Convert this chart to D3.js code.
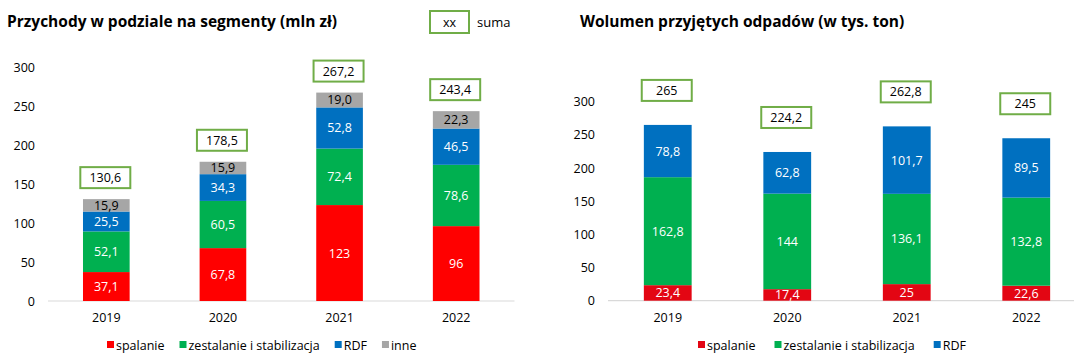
<!DOCTYPE html>
<html>
<head>
<meta charset="utf-8">
<script src="https://cdn.jsdelivr.net/npm/d3@7"></script>
<style>
  html, body { margin: 0; padding: 0; background: #fff; }
  svg { display: block; }
  text { font-family: "Open Sans", "Noto Sans", sans-serif; }
</style>
</head>
<body>
<svg id="chart" width="1074" height="358"></svg>
<script>
// ---------- DATA ----------
const years = ["2019", "2020", "2021", "2022"];
const yTicks = [0, 50, 100, 150, 200, 250, 300];

// Przychody w podziale na segmenty (mln zł)
const revSpalanie   = ["37,1", "67,8", "123", "96"];
const revZestalanie = ["52,1", "60,5", "72,4", "78,6"];
const revRDF        = ["25,5", "34,3", "52,8", "46,5"];
const revInne       = ["15,9", "15,9", "19,0", "22,3"];
const revSuma       = ["130,6", "178,5", "267,2", "243,4"];

// Wolumen przyjętych odpadów (w tys. ton)
const volSpalanie   = ["23,4", "17,4", "25", "22,6"];
const volZestalanie = ["162,8", "144", "136,1", "132,8"];
const volRDF        = ["78,8", "62,8", "101,7", "89,5"];
const volSuma       = ["265", "224,2", "262,8", "245"];

const seriesNames = ["spalanie", "zestalanie i stabilizacja", "RDF", "inne"];
const titles = ["Przychody w podziale na segmenty (mln zł)", "Wolumen przyjętych odpadów (w tys. ton)"];
const sumLegendText = ["xx", "suma"];

// ---------- HELPERS ----------
const num = s => +s.replace(",", ".");
const svg = d3.select("#chart");

function drawChart(cfg) {
  const g = svg.append("g");
  const x = d3.scaleBand().domain(years).range(cfg.xRange).paddingInner(0.6).paddingOuter(0.3);
  const y = d3.scaleLinear().domain([0, 300]).range(cfg.yRange);

  // title
  g.append("text").attr("x", cfg.titleX).attr("y", 27)
    .attr("font-size", "15.5px").attr("font-weight", 700).attr("fill", "#000")
    .text(cfg.title);

  // y axis labels
  const ya = d3.axisLeft(y).tickValues(yTicks).tickSize(0).tickPadding(0);
  const yg = g.append("g").attr("transform", `translate(${cfg.yLabelX},0)`).call(ya);
  yg.select(".domain").remove();
  yg.selectAll("text").attr("font-size", "12.5px").attr("fill", "#000")
    .attr("font-family", "'Open Sans', sans-serif");

  // x axis
  const xa = d3.axisBottom(x).tickSize(0).tickPadding(0);
  const xg = g.append("g").attr("transform", `translate(0,${cfg.yRange[0]})`).call(xa);
  xg.select(".domain").attr("stroke", "#d9d9d9").attr("stroke-width", 1.2)
    .attr("d", `M${cfg.xRange[0]},0H${Math.min(cfg.xRange[1], 1074)}`);
  xg.selectAll("text").attr("font-size", "12.5px").attr("fill", "#000")
    .attr("dy", 0).attr("y", 21).attr("font-family", "'Open Sans', sans-serif");

  // stacks
  const rows = years.map((yr, i) => {
    const r = { year: yr };
    cfg.series.forEach((s, k) => r[k] = num(s[i]));
    return r;
  });
  const keys = cfg.series.map((_, k) => k);
  const stack = d3.stack().keys(keys)(rows);

  stack.forEach((layer, k) => {
    const lg = g.append("g");
    lg.selectAll("rect").data(layer).join("rect")
      .attr("x", d => x(d.data.year))
      .attr("width", x.bandwidth())
      .attr("y", d => y(d[1]))
      .attr("height", d => y(d[0]) - y(d[1]))
      .attr("fill", cfg.colors[k]);
    lg.selectAll("text").data(layer).join("text")
      .attr("x", d => x(d.data.year) + x.bandwidth() / 2)
      .attr("y", d => (y(d[0]) + y(d[1])) / 2 + 4.5)
      .attr("text-anchor", "middle")
      .attr("font-size", "12.5px")
      .attr("fill", cfg.labelColors[k])
      .text((d, i) => cfg.series[k][i]);
  });

  // sum boxes
  const sg = g.append("g");
  const boxW = 50, boxH = 21;
  years.forEach((yr, i) => {
    const total = d3.sum(cfg.series, s => num(s[i]));
    const cx = x(yr) + x.bandwidth() / 2 - 1;
    const bottom = y(total) - cfg.boxGap;
    sg.append("rect").attr("x", cx - boxW / 2).attr("y", bottom - boxH)
      .attr("width", boxW).attr("height", boxH)
      .attr("fill", "#fff").attr("stroke", "#70ad47").attr("stroke-width", 2);
    sg.append("text").attr("x", cx).attr("y", bottom - boxH / 2 + 4.5)
      .attr("text-anchor", "middle").attr("font-size", "12.5px").attr("fill", "#000")
      .text(cfg.sums[i]);
  });

  // legend
  const leg = g.append("g").attr("transform", `translate(${cfg.legendX},345)`);
  let lx = 0;
  cfg.series.forEach((s, k) => {
    leg.append("rect").attr("x", lx).attr("y", -4).attr("width", 7).attr("height", 7)
      .attr("fill", cfg.colors[k]);
    const t = leg.append("text").attr("x", lx + 9).attr("y", 4.5)
      .attr("font-size", "12.5px").attr("fill", "#000").text(seriesNames[k]);
    lx += 9 + t.node().getComputedTextLength() + cfg.legendGap;
  });
}

drawChart({
  title: titles[0], titleX: 7,
  xRange: [48, 514.5], yRange: [301, 67], yLabelX: 35,
  series: [revSpalanie, revZestalanie, revRDF, revInne],
  sums: revSuma,
  colors: ["#ff0000", "#00b050", "#0070c0", "#a6a6a6"],
  labelColors: ["#fff", "#fff", "#fff", "#000"],
  boxGap: 11, legendX: 107, legendGap: 15
});

drawChart({
  title: titles[1], titleX: 580,
  xRange: [608, 1086], yRange: [300.7, 101.7], yLabelX: 595,
  series: [volSpalanie, volZestalanie, volRDF],
  sums: volSuma,
  colors: ["#e30613", "#00b050", "#0070c0"],
  labelColors: ["#fff", "#fff", "#fff"],
  boxGap: 24, legendX: 698, legendGap: 19
});

// "xx suma" key
const key = svg.append("g");
key.append("rect").attr("x", 430).attr("y", 11).attr("width", 39).attr("height", 22)
  .attr("fill", "#fff").attr("stroke", "#70ad47").attr("stroke-width", 2);
key.append("text").attr("x", 449.5).attr("y", 26.5).attr("text-anchor", "middle")
  .attr("font-size", "12.5px").attr("fill", "#000").text(sumLegendText[0]);
key.append("text").attr("x", 477).attr("y", 27).attr("font-size", "13px")
  .attr("fill", "#000").text(sumLegendText[1]);
</script>
</body>
</html>
